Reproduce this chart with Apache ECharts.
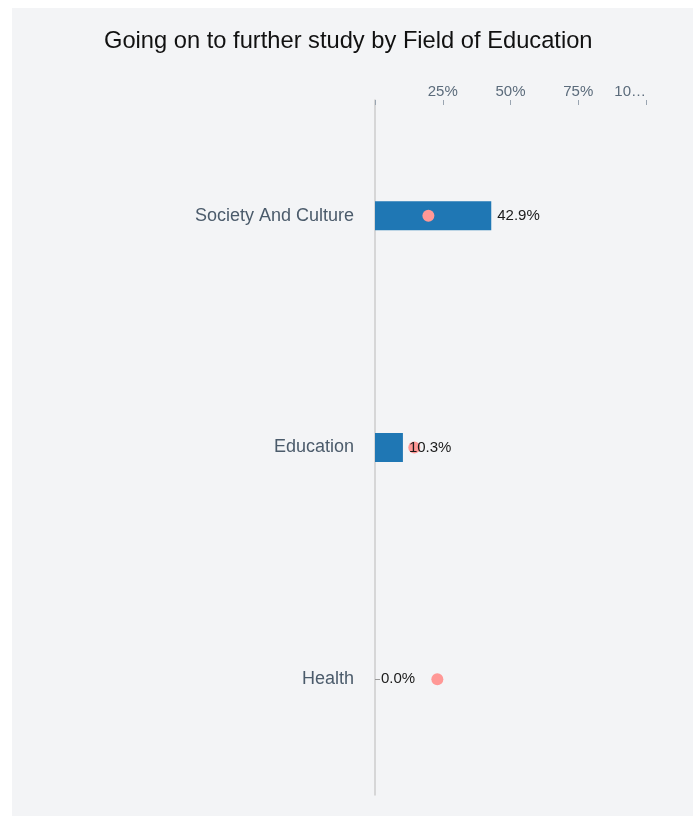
<!DOCTYPE html>
<html>
<head>
<meta charset="utf-8">
<script src="https://cdn.jsdelivr.net/npm/echarts@6/dist/echarts.min.js"></script>
<style>
  html, body { margin: 0; padding: 0; background: #ffffff; }
  #chart { position: absolute; left: 12px; top: 8px; width: 681px; height: 808px; background: #f3f4f6; }
</style>
</head>
<body>
<div id="chart"></div>
<script>
const categories = ['Society And Culture', 'Education', 'Health'];
const barValues = [42.9, 10.3, 0.0];
const dotValues = [19.7, 14.5, 23.0];
const tickValues = [0, 25, 50, 75, 100];
const tickLabels = ['', '25%', '50%', '75%', '10…'];

const chart = echarts.init(document.getElementById('chart'));
const font = 'Liberation Sans, Helvetica, Arial, sans-serif';
chart.setOption({
  backgroundColor: '#f3f4f6',
  animation: false,
  title: {
    text: 'Going on to further study by Field of Education',
    left: 87,
    top: 16,
    textStyle: { fontFamily: font, fontSize: 23.7, fontWeight: 'normal', color: '#111111' }
  },
  grid: { left: 363, right: 47, top: 92, bottom: 21, containLabel: false },
  xAxis: {
    type: 'value',
    position: 'top',
    min: 0, max: 100, interval: 25,
    axisLine: { show: false },
    axisTick: { show: true, inside: true, length: 5, lineStyle: { color: '#9aa5b1' } },
    splitLine: { show: false },
    axisLabel: {
      margin: 1,
      alignMaxLabel: 'right',
      fontFamily: font, fontSize: 15, color: '#5b6b7b',
      formatter: function (v) { const i = tickValues.indexOf(v); return i >= 0 ? tickLabels[i] : ''; }
    }
  },
  yAxis: {
    type: 'category',
    data: categories,
    inverse: true,
    axisLine: { show: true, lineStyle: { color: '#cccccc', width: 1.5 } },
    axisTick: { show: true, inside: true, length: 5, alignWithLabel: true, lineStyle: { color: '#999999' } },
    axisLabel: { margin: 21, padding: [5, 0, 0, 0], fontFamily: font, fontSize: 18, color: '#4b5b6b' }
  },
  series: [
    {
      type: 'bar', data: barValues, barWidth: 29, z: 2,
      itemStyle: { color: '#1f77b4' }
    },
    {
      type: 'scatter', data: dotValues, symbolSize: 12, z: 3,
      itemStyle: { color: '#ff9896', opacity: 1 }
    },
    {
      type: 'bar', data: barValues, barWidth: 29, barGap: '-100%', z: 4,
      itemStyle: { color: 'rgba(0,0,0,0)' },
      label: {
        show: true, position: 'right', distance: 6, padding: [4, 0, 0, 0],
        fontFamily: font, fontSize: 15, color: '#1a1a1a',
        formatter: function (p) { return p.value.toFixed(1) + '%'; }
      }
    }
  ]
});
</script>
</body>
</html>
